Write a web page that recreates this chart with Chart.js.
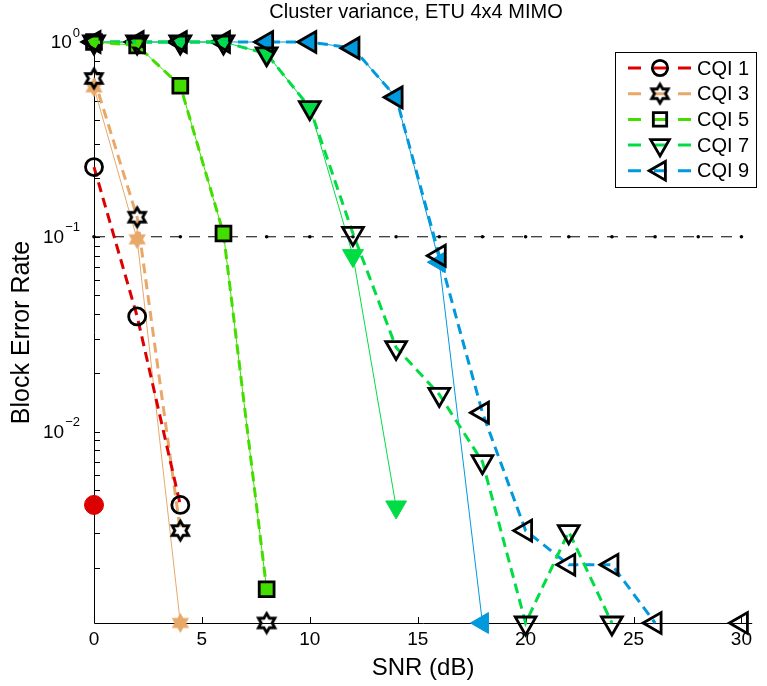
<!DOCTYPE html>
<html>
<head>
<meta charset="utf-8">
<script src="https://cdn.jsdelivr.net/npm/chart.js@4.4.0/dist/chart.umd.min.js"></script>
<style>
  html, body { margin: 0; padding: 0; background: #fff; }
  #contenedor { width: 767px; height: 686px; position: relative; }
</style>
</head>
<body>
<div id="contenedor"><canvas id="grafica"></canvas></div>
<script>
// Textos
const titulo = 'Cluster variance, ETU 4x4 MIMO';
const etiquetaX = 'SNR (dB)';
const etiquetaY = 'Block Error Rate';
const nombresCQI = ['CQI 1', 'CQI 3', 'CQI 5', 'CQI 7', 'CQI 9'];

// Ejes
const snr = [0, 2, 4, 6, 8, 10, 12, 14, 16, 18, 20, 22, 24, 26, 28, 30];
const ticksX = [0, 5, 10, 15, 20, 25, 30];
const ticksY = [0.01, 0.1, 1];
const exponentesY = ['\u22122', '\u22121', '0'];
const minY = 0.00104;
const maxY = 1;
const maxX = 30.5;

// Linea de referencia (BLER = 0.1)
const umbral = [0.1, 0.1, 0.1, 0.1, 0.1, 0.1, 0.1, 0.1, 0.1, 0.1, 0.1, 0.1, 0.1, 0.1, 0.1, 0.1];

// Series: "guion" = linea discontinua con marcador abierto, "fina" = linea fina con marcador relleno
const cqi1Guion = [0.228, 0.039, 0.0042, null, null, null, null, null, null, null, null, null, null, null, null, null];
const cqi1Fina  = [0.0042, null, null, null, null, null, null, null, null, null, null, null, null, null, null, null];
const cqi3Guion = [0.65, 0.126, 0.0031, null, 0.00104, null, null, null, null, null, null, null, null, null, null, null];
const cqi3Fina  = [0.585, 0.097, 0.00104, null, null, null, null, null, null, null, null, null, null, null, null, null];
const cqi5Guion = [1, 0.96, 0.596, 0.104, 0.00155, null, null, null, null, null, null, null, null, null, null, null];
const cqi5Fina  = [1, 0.96, 0.596, 0.104, 0.00155, null, null, null, null, null, null, null, null, null, null, null];
const cqi7Guion = [1, 1, 1, 1, 0.87, 0.46, 0.104, 0.027, 0.0155, 0.0070, 0.00104, 0.00306, 0.00104, null, null, null];
const cqi7Fina  = [1, 1, 1, 1, 0.87, 0.46, 0.080, 0.0041, null, null, null, null, null, null, null, null];
const cqi9Guion = [1, 1, 1, 1, 1, 1, 0.93, 0.52, 0.080, 0.0125, 0.0031, 0.00207, 0.00207, 0.00104, null, 0.00104];
const cqi9Fina  = [1, 1, 1, 1, 1, 1, 0.93, 0.52, 0.074, 0.00104, null, null, null, null, null, null];

const colores = ['#DD0000', '#E8A86A', '#44DD00', '#00DD44', '#0099DD'];
const fuente = "'Liberation Sans', Arial, sans-serif";

// Estrella de seis puntas (hexagrama) como imagen para pointStyle
function hexagrama(radio, relleno, borde, grosor) {
    const lado = Math.ceil(2 * radio + grosor + 3);
    const c = document.createElement('canvas');
    c.width = lado;
    c.height = lado;
    const g = c.getContext('2d');
    const cx = lado / 2, cy = lado / 2;
    const rInt = radio / Math.sqrt(3);
    g.beginPath();
    for (let i = 0; i < 12; i++) {
        const r = i % 2 === 0 ? radio : rInt;
        const ang = -Math.PI / 2 + i * Math.PI / 6;
        const px = cx + r * Math.cos(ang);
        const py = cy + r * Math.sin(ang);
        if (i === 0) g.moveTo(px, py); else g.lineTo(px, py);
    }
    g.closePath();
    if (relleno) { g.fillStyle = relleno; g.fill(); }
    if (borde) { g.strokeStyle = borde; g.lineWidth = grosor; g.stroke(); }
    return c;
}

const estrellaAbierta = hexagrama(9.5, null, '#000', 2.8);
const estrellaRellena = hexagrama(10, colores[1], null, 0);

// Forma de marcador por CQI
const formas = [
    { estilo: 'circle', radio: 8.5, rot: 0 },
    { estilo: 'star6', radio: 10, rot: 0 },
    { estilo: 'rect', radio: 10.5, rot: 0 },
    { estilo: 'triangle', radio: 12, rot: 180 },
    { estilo: 'triangle', radio: 12, rot: -90 }
];

function serie(valores) {
    return snr.map((s, i) => ({ x: s, y: valores[i] }));
}

function datasetGuion(valores, k) {
    const f = formas[k];
    return {
        label: nombresCQI[k],
        data: serie(valores),
        borderColor: colores[k],
        borderWidth: 3,
        borderDash: [10, 6],
        pointStyle: f.estilo === 'star6' ? estrellaAbierta : f.estilo,
        pointRadius: f.radio,
        pointRotation: f.rot,
        pointBorderColor: '#000',
        pointBackgroundColor: 'rgba(0,0,0,0)',
        pointBorderWidth: 2.8,
        spanGaps: false,
        clip: false,
        order: 1
    };
}

function datasetFina(valores, k) {
    const f = formas[k];
    return {
        label: nombresCQI[k] + ' fina',
        data: serie(valores),
        borderColor: colores[k],
        borderWidth: 1,
        pointStyle: f.estilo === 'star6' ? estrellaRellena : f.estilo,
        pointRadius: f.estilo === 'circle' ? 9.5 : f.radio,
        pointRotation: f.rot,
        pointBorderColor: colores[k],
        pointBackgroundColor: colores[k],
        pointBorderWidth: 1,
        spanGaps: false,
        clip: false,
        order: 2
    };
}

const guiones = [cqi1Guion, cqi3Guion, cqi5Guion, cqi7Guion, cqi9Guion];
const finas = [cqi1Fina, cqi3Fina, cqi5Fina, cqi7Fina, cqi9Fina];

const datasets = [];
guiones.forEach((v, k) => datasets.push(datasetGuion(v, k)));
finas.forEach((v, k) => datasets.push(datasetFina(v, k)));
datasets.push({
    label: 'umbral',
    data: serie(umbral),
    borderColor: '#000',
    borderWidth: 1,
    borderDash: [11, 8],
    pointStyle: 'circle',
    pointRadius: 1.8,
    pointBackgroundColor: '#000',
    pointBorderWidth: 0,
    clip: false,
    order: 3
});

// Ejes estilo MATLAB: lineas, marcas hacia dentro, subdivisiones logaritmicas y etiquetas 10^n
const ejes = {
    id: 'ejes',
    beforeDatasetsDraw(chart) {
        const { ctx, chartArea: a, scales: { x, y } } = chart;
        ctx.save();
        ctx.strokeStyle = '#000';
        ctx.lineWidth = 1;
        ctx.beginPath();
        ctx.moveTo(a.left + 0.5, a.top);
        ctx.lineTo(a.left + 0.5, a.bottom + 0.5);
        ctx.lineTo(a.right, a.bottom + 0.5);
        ctx.stroke();

        ctx.beginPath();
        ticksX.forEach(v => {
            const px = Math.round(x.getPixelForValue(v)) + 0.5;
            ctx.moveTo(px, a.bottom);
            ctx.lineTo(px, a.bottom - 6);
        });
        for (let d = -3; d <= 0; d++) {
            for (let m = 1; m <= 9; m++) {
                const v = m * Math.pow(10, d);
                if (v < minY || v > maxY) continue;
                const py = Math.round(y.getPixelForValue(v)) + 0.5;
                ctx.moveTo(a.left, py);
                ctx.lineTo(a.left + 6, py);
            }
        }
        ctx.stroke();

        // Etiquetas del eje Y con exponente
        ctx.fillStyle = '#000';
        ctx.textBaseline = 'middle';
        ticksY.forEach((v, i) => {
            const py = y.getPixelForValue(v);
            ctx.font = '13px ' + fuente;
            ctx.textAlign = 'right';
            const anchoExp = ctx.measureText(exponentesY[i]).width;
            ctx.fillText(exponentesY[i], 80, py - 9);
            ctx.font = '19px ' + fuente;
            ctx.fillText('10', 80 - anchoExp - 1, py + 1);
        });
        ctx.restore();
    },
    afterDraw(chart) {
        const { ctx } = chart;
        ctx.save();
        // Titulo
        ctx.fillStyle = '#000';
        ctx.font = '20px ' + fuente;
        ctx.textAlign = 'center';
        ctx.textBaseline = 'middle';
        ctx.fillText(titulo, 416, 12);

        // Leyenda
        const caja = { x: 615.5, y: 52.5, w: 141, h: 135 };
        ctx.fillStyle = '#fff';
        ctx.fillRect(caja.x, caja.y, caja.w, caja.h);
        ctx.strokeStyle = '#000';
        ctx.lineWidth = 1;
        ctx.strokeRect(caja.x, caja.y, caja.w, caja.h);
        nombresCQI.forEach((nombre, k) => {
            const yy = 68 + k * 25.7;
            ctx.strokeStyle = colores[k];
            ctx.lineWidth = 3;
            ctx.beginPath();
            [[628, 641], [654, 667], [678, 691]].forEach(s => {
                ctx.moveTo(s[0], yy);
                ctx.lineTo(s[1], yy);
            });
            ctx.stroke();
            const f = formas[k];
            if (f.estilo === 'star6') {
                ctx.drawImage(estrellaAbierta, 660 - estrellaAbierta.width / 2, yy - estrellaAbierta.height / 2);
            } else {
                ctx.strokeStyle = '#000';
                ctx.fillStyle = 'rgba(0,0,0,0)';
                ctx.lineWidth = 2.8;
                Chart.helpers.drawPoint(ctx, {
                    pointStyle: f.estilo, radius: f.radio * 0.9, rotation: f.rot, borderWidth: 2.8
                }, 660, yy);
            }
            ctx.fillStyle = '#000';
            ctx.font = '20px ' + fuente;
            ctx.textAlign = 'left';
            ctx.textBaseline = 'middle';
            ctx.fillText(nombre, 697, yy + 1);
        });
        ctx.restore();
    }
};

new Chart(document.getElementById('grafica'), {
    type: 'line',
    data: { datasets: datasets },
    options: {
        responsive: true,
        maintainAspectRatio: false,
        animation: false,
        events: [],
        layout: { padding: { top: 42, right: 7, left: 0, bottom: 0 } },
        plugins: {
            legend: { display: false },
            title: { display: false },
            tooltip: { enabled: false }
        },
        elements: { line: { tension: 0 } },
        scales: {
            x: {
                type: 'linear',
                min: 0,
                max: maxX,
                grid: { display: false },
                border: { display: false },
                afterFit: s => { s.height = 63; },
                afterBuildTicks: s => { s.ticks = ticksX.map(v => ({ value: v })); },
                ticks: {
                    color: '#000',
                    padding: -3,
                    maxRotation: 0,
                    font: { size: 19, family: fuente },
                    callback: v => String(v)
                },
                title: {
                    display: true,
                    text: etiquetaX,
                    color: '#000',
                    font: { size: 24, family: fuente },
                    padding: { top: 0, bottom: 3 }
                }
            },
            y: {
                type: 'logarithmic',
                min: minY,
                max: maxY,
                grid: { display: false },
                border: { display: false },
                afterFit: s => { s.width = 94; },
                afterBuildTicks: s => { s.ticks = ticksY.map(v => ({ value: v })); },
                ticks: { display: false },
                title: {
                    display: true,
                    text: etiquetaY,
                    color: '#000',
                    font: { size: 25, family: fuente },
                    padding: { top: 7, bottom: 0 }
                }
            }
        }
    },
    plugins: [ejes]
});
</script>
</body>
</html>
